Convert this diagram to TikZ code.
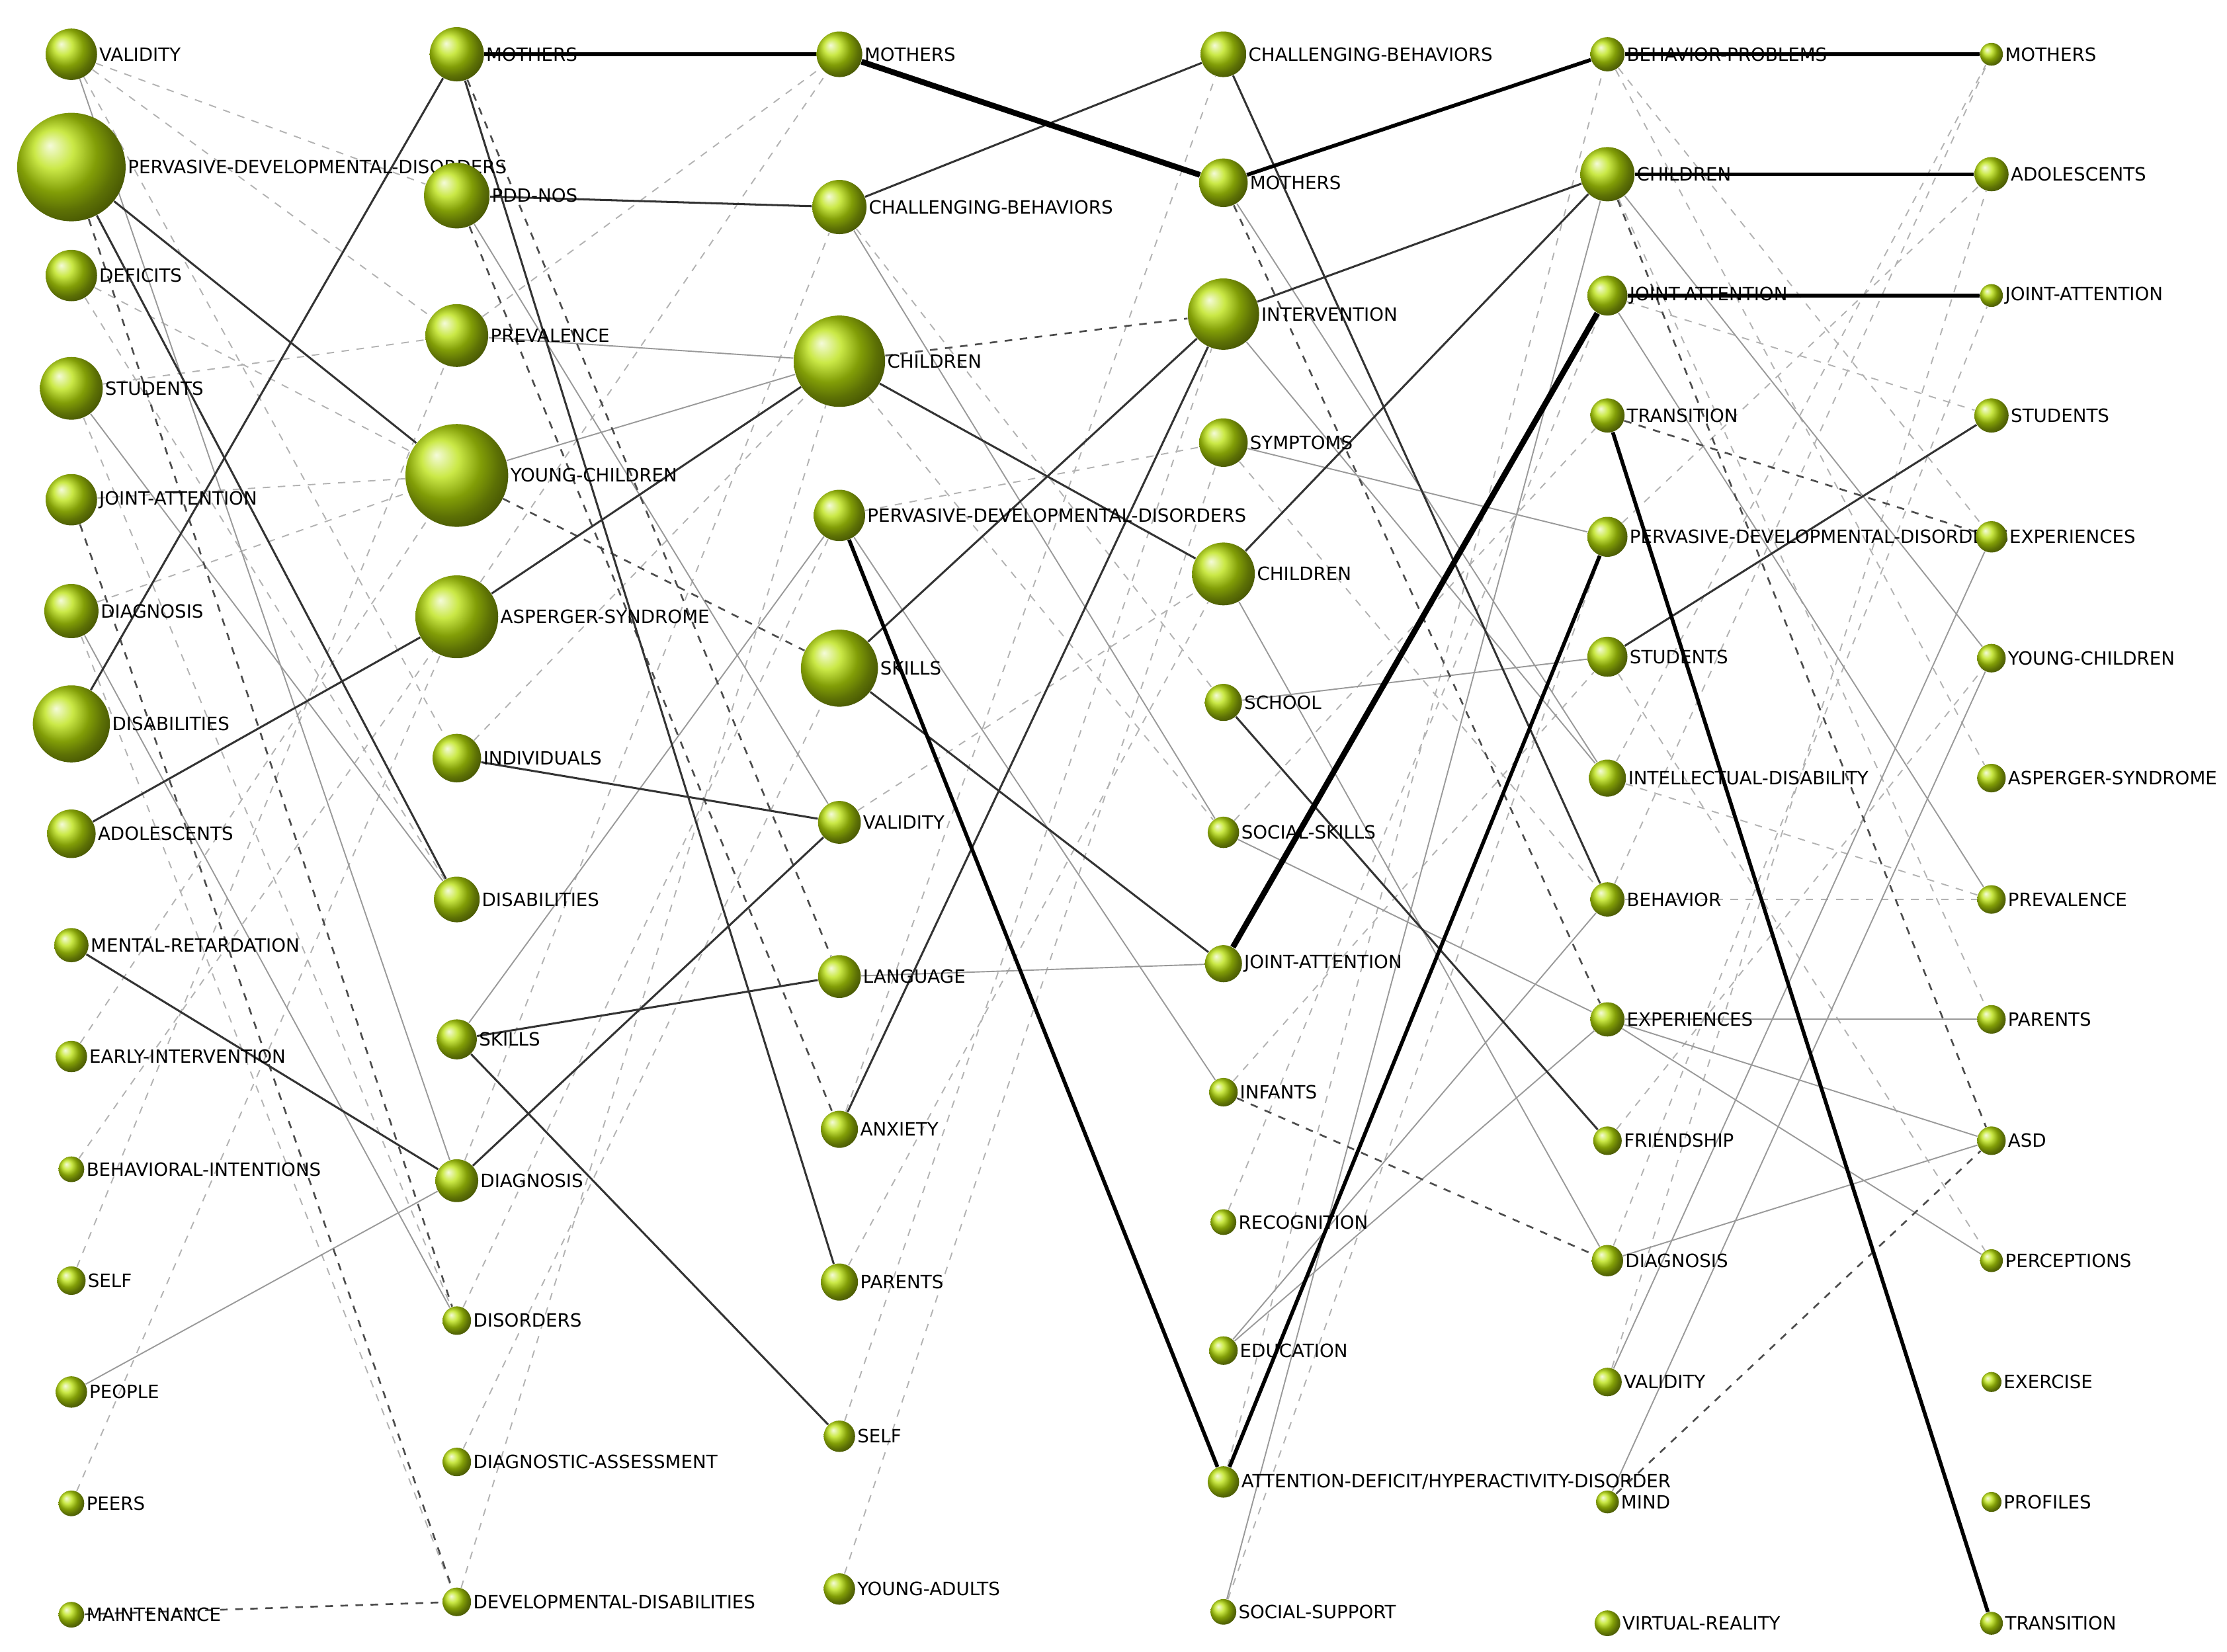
\documentclass[tikz,border=0pt]{standalone}
\usepackage{fontspec}
\setmainfont{DejaVu Sans}
\usetikzlibrary{backgrounds}
\definecolor{ballgreen}{RGB}{185,225,10}
\begin{document}
\begin{tikzpicture}[
			ball/.style={circle, shading=ball, ball color=ballgreen, inner sep=0pt},
			lbl/.style={font=\fontsize{7.3}{8}\selectfont, inner sep=0.5pt},
			strong/.style={line width=1.5pt, black},
			heavy/.style={line width=2.3pt, black},
			mid/.style={line width=0.8pt, black!80},
			light/.style={line width=0.5pt, black!40},
			ddash/.style={line width=0.7pt, black!70, dashed},
			ldash/.style={line width=0.5pt, black!30, dashed}
			]
			\useasboundingbox (0,0) rectangle (31.2,-23.14);
			% columns of terms
			\foreach \i/\y/\r/\t in {1/38/18/VALIDITY, 2/117/38/PERVASIVE-DEVELOPMENTAL-DISORDERS, 3/193/18/DEFICITS, 4/272/22/STUDENTS, 5/350/18/JOINT-ATTENTION, 6/428/19/DIAGNOSIS, 7/507/27/DISABILITIES, 8/584/17/ADOLESCENTS, 9/662/12/MENTAL-RETARDATION, 10/740/11/EARLY-INTERVENTION, 11/819/9/BEHAVIORAL-INTENTIONS, 12/897/10/SELF, 13/975/11/PEOPLE, 14/1053/9/PEERS, 15/1131/9/MAINTENANCE}
				\node[ball, minimum size=\r*0.04cm, label={[lbl]right:\t}] (a\i) at (1.0,-\y*0.02) {};
			\foreach \i/\y/\r/\t in {1/38/19/MOTHERS, 2/137/23/PDD-NOS, 3/235/22/PREVALENCE, 4/333/36/YOUNG-CHILDREN, 5/432/29/ASPERGER-SYNDROME, 6/531/17/INDIVIDUALS, 7/630/16/DISABILITIES, 8/728/14/SKILLS, 9/827/15/DIAGNOSIS, 10/925/10/DISORDERS, 11/1024/10/DIAGNOSTIC-ASSESSMENT, 12/1122/10/DEVELOPMENTAL-DISABILITIES}
				\node[ball, minimum size=\r*0.04cm, label={[lbl]right:\t}] (b\i) at (6.4,-\y*0.02) {};
			\foreach \i/\y/\r/\t in {1/38/16/MOTHERS, 2/145/19/CHALLENGING-BEHAVIORS, 3/253/32/CHILDREN, 4/361/18/PERVASIVE-DEVELOPMENTAL-DISORDERS, 5/468/27/SKILLS, 6/576/15/VALIDITY, 7/684/15/LANGUAGE, 8/791/13/ANXIETY, 9/898/13/PARENTS, 10/1006/11/SELF, 11/1113/11/YOUNG-ADULTS}
				\node[ball, minimum size=\r*0.04cm, label={[lbl]right:\t}] (c\i) at (11.76,-\y*0.02) {};
			\foreach \i/\y/\r/\t in {1/38/16/CHALLENGING-BEHAVIORS, 2/128/17/MOTHERS, 3/220/25/INTERVENTION, 4/310/17/SYMPTOMS, 5/402/22/CHILDREN, 6/492/13/SCHOOL, 7/583/11/SOCIAL-SKILLS, 8/675/13/JOINT-ATTENTION, 9/765/10/INFANTS, 10/856/9/RECOGNITION, 11/946/10/EDUCATION, 12/1038/11/{ATTENTION-DEFICIT/HYPERACTIVITY-DISORDER}, 13/1129/9/SOCIAL-SUPPORT}
				\node[ball, minimum size=\r*0.04cm, label={[lbl]right:\t}] (d\i) at (17.14,-\y*0.02) {};
			\foreach \i/\y/\r/\t in {1/38/12/BEHAVIOR-PROBLEMS, 2/122/19/CHILDREN, 3/207/14/JOINT-ATTENTION, 4/291/12/TRANSITION, 5/376/14/PERVASIVE-DEVELOPMENTAL-DISORDERS, 6/460/14/STUDENTS, 7/545/13/INTELLECTUAL-DISABILITY, 8/630/12/BEHAVIOR, 9/714/12/EXPERIENCES, 10/799/10/FRIENDSHIP, 11/883/11/DIAGNOSIS, 12/968/10/VALIDITY, 13/1052/8/MIND, 14/1137/9/VIRTUAL-REALITY}
				\node[ball, minimum size=\r*0.04cm, label={[lbl]right:\t}] (e\i) at (22.52,-\y*0.02) {};
			\foreach \i/\y/\r/\t in {1/38/8/MOTHERS, 2/122/12/ADOLESCENTS, 3/207/8/JOINT-ATTENTION, 4/291/12/STUDENTS, 5/376/11/EXPERIENCES, 6/461/10/YOUNG-CHILDREN, 7/545/10/ASPERGER-SYNDROME, 8/630/10/PREVALENCE, 9/714/10/PARENTS, 10/799/10/ASD, 11/883/8/PERCEPTIONS, 12/968/7/EXERCISE, 13/1052/7/PROFILES, 14/1137/8/TRANSITION}
				\node[ball, minimum size=\r*0.04cm, label={[lbl]right:\t}] (f\i) at (27.9,-\y*0.02) {};
			% links between periods
			\begin{scope}[on background layer]
				\foreach \p/\q in {a1/b2, a1/b3, a3/b4, a4/b3, a5/b4, a6/b4, a10/b4, a11/b5, a12/b3, a14/b5, a1/b6, a3/b7, a4/b10, a6/b12, b3/c1, b5/c1, b9/c2, b12/c3, b10/c4, b6/c3, b11/c5, c10/d3, c11/d4, c9/d5, c6/d5, c8/d1, c4/d4, c2/d6, c3/d7, d10/e3, d12/e1, d13/e5, d7/e4, d9/e6, d4/e8, e1/f5, e1/f7, e3/f4, e5/f2, e7/f1, e8/f1, e10/f6, e12/f2, e7/f8, e8/f8, e2/f9, e6/f11, e11/f3}
					\draw[ldash] (\p) -- (\q);
				\foreach \p/\q in {a13/b9, a1/b9, a4/b7, a6/b10, b4/c3, b3/c3, b8/c4, b2/c6, c4/d9, c2/d7, c7/d8, d6/e6, d3/e7, d2/e7, d13/e2, d11/e9, d11/e8, e9/f10, e9/f11, e11/f10, e2/f6, e3/f8, d4/e5, d7/e9, e9/f9, e12/f5, e13/f6, d5/e11}
					\draw[light] (\p) -- (\q);
				\foreach \p/\q in {c3/d3, b4/c5, a15/b12, e13/f10, d9/e11, e2/f10, e4/f5, b2/c8, a2/b10, a5/b12, b1/c7, d2/e9}
					\draw[ddash] (\p) -- (\q);
				\foreach \p/\q in {c2/d1, b2/c2, a2/b4, a2/b7, b5/c3, a8/b5, b6/c6, b8/c7, b8/c10, b1/c9, a9/b9, b9/c6, c5/d3, c5/d8, c8/d3, c3/d5, d5/e2, d3/e2, d6/e10, e6/f4, d1/e8, a7/b1}
					\draw[mid] (\p) -- (\q);
				\foreach \p/\q in {b1/c1, d2/e1, e1/f1, e2/f2, e3/f3, e4/f14, c4/d12, d12/e5}
					\draw[strong] (\p) -- (\q);
				\draw[heavy] (c1) -- (d2);
				\draw[heavy] (d8) -- (e3);
			\end{scope}
		\end{tikzpicture}
\end{document}
